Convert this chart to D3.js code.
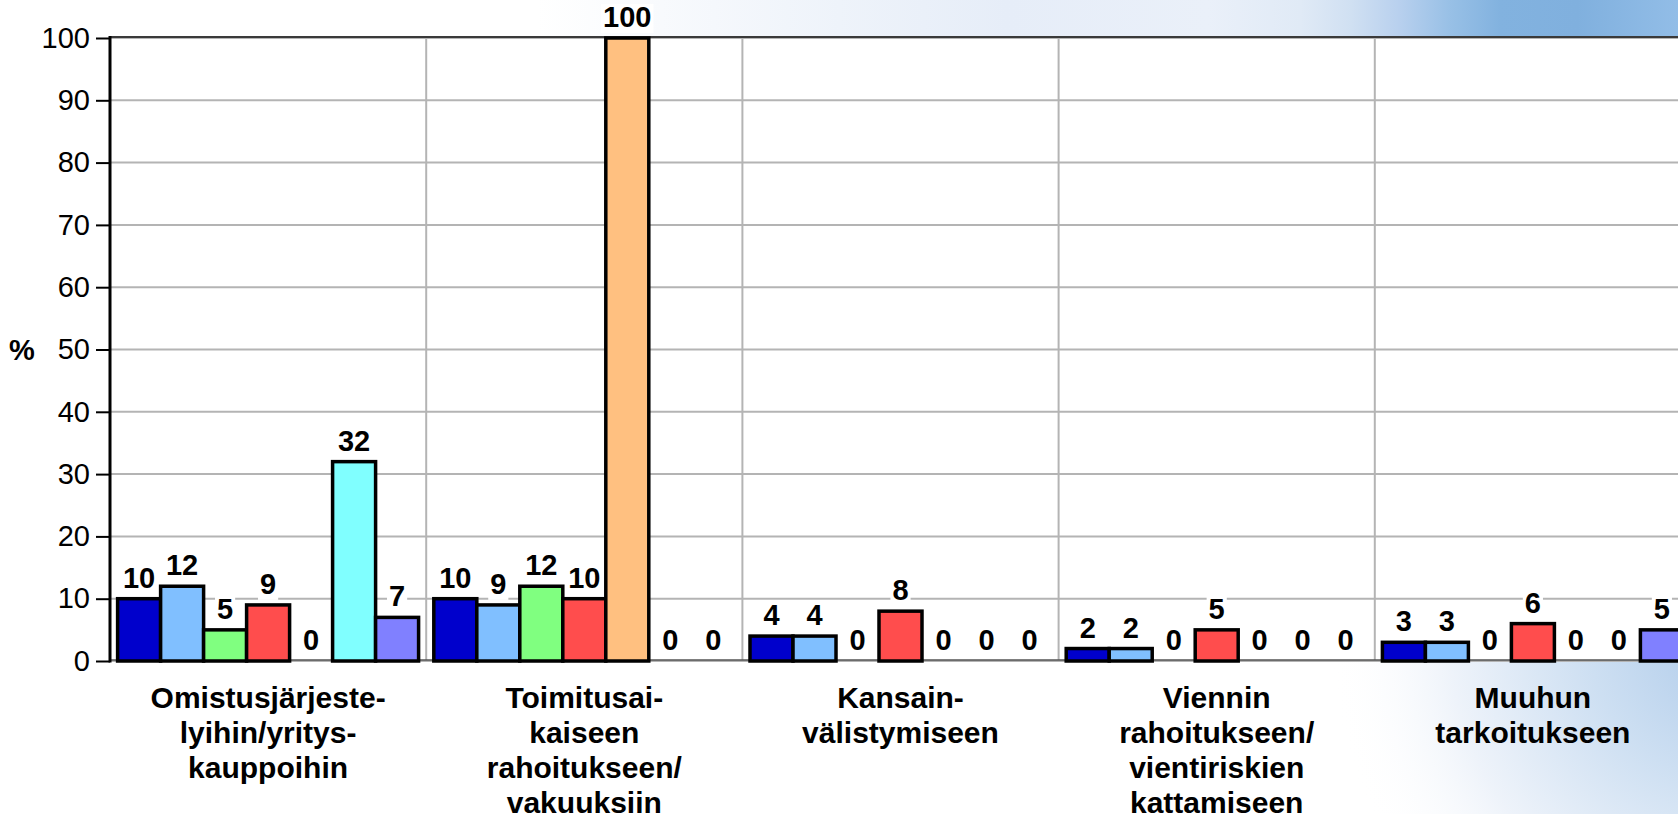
<!DOCTYPE html>
<html>
<head>
<meta charset="utf-8">
<script src="https://cdn.jsdelivr.net/npm/d3@7"></script>
<style>
  html, body { margin: 0; padding: 0; background: #fff; overflow: hidden; }
  svg { display: block; font-family: "Liberation Sans", Arial, sans-serif; }
</style>
</head>
<body>
<svg id="chart" width="1678" height="814"></svg>
<script>
// category labels, one entry per line as on the slide
var categoryLines = [
    ["Omistusjärjeste-", "lyihin/yritys-", "kauppoihin"],
    ["Toimitusai-", "kaiseen", "rahoitukseen/", "vakuuksiin"],
    ["Kansain-", "välistymiseen"],
    ["Viennin", "rahoitukseen/", "vientiriskien", "kattamiseen"],
    ["Muuhun", "tarkoitukseen"]
];
var categories = ["Omistusjärjestelyihin/yrityskauppoihin", "Toimitusaikaiseen rahoitukseen/vakuuksiin",
    "Kansainvälistymiseen", "Viennin rahoitukseen/vientiriskien kattamiseen", "Muuhun tarkoitukseen"];

// values per category, seven series each (%)
var omistus   = [10, 12, 5, 9, 0, 32, 7];
var toimitus  = [10, 9, 12, 10, 100, 0, 0];
var kansain   = [4, 4, 0, 8, 0, 0, 0];
var viennin   = [2, 2, 0, 5, 0, 0, 0];
var muuhun    = [3, 3, 0, 6, 0, 0, 5];
var values = [omistus, toimitus, kansain, viennin, muuhun];

var seriesColors = ["#0000cc", "#80bfff", "#80ff80", "#ff4d4d", "#ffc080", "#80ffff", "#8080ff"];
var yTicks = [0, 10, 20, 30, 40, 50, 60, 70, 80, 90, 100];

var svg = d3.select("#chart");
var W = 1678, H = 814;
var plotLeft = 110, plotTop = 38, plotBottom = 661;
var catStep = 316.2;

var defs = svg.append("defs");
var topGrad = defs.append("linearGradient").attr("id", "topGrad")
    .attr("x1", "0").attr("x2", "1").attr("y1", "0").attr("y2", "0");
[[0, "#ffffff"], [0.32, "#ffffff"], [0.5, "#eef3fa"], [0.6, "#e6edf8"], [0.72, "#eaf0f9"],
 [0.775, "#e0eaf6"], [0.805, "#d0e0f2"], [0.834, "#b8d0ee"], [0.864, "#98c0e6"],
 [0.894, "#82b2df"], [0.94, "#80b0de"], [1, "#92bde7"]].forEach(function(s) {
    topGrad.append("stop").attr("offset", s[0]).attr("stop-color", s[1]);
});
var cornerGrad = defs.append("radialGradient").attr("id", "cornerGrad")
    .attr("gradientUnits", "userSpaceOnUse")
    .attr("cx", 1730).attr("cy", 640).attr("r", 400);
[[0, "#afcbea", 1], [0.35, "#cddff2", 1], [0.7, "#eef3fa", 1], [1, "#ffffff", 0]].forEach(function(s) {
    cornerGrad.append("stop").attr("offset", s[0]).attr("stop-color", s[1]).attr("stop-opacity", s[2]);
});

// slide background
svg.append("rect").attr("width", W).attr("height", H).attr("fill", "#fff");
svg.append("rect").attr("width", W).attr("height", plotTop).attr("fill", "url(#topGrad)");
svg.append("rect").attr("x", 1100).attr("y", plotBottom).attr("width", W - 1100).attr("height", H - plotBottom)
    .attr("fill", "url(#cornerGrad)");

var x0 = d3.scaleBand()
    .domain(d3.range(categories.length))
    .range([plotLeft, plotLeft + catStep * categories.length])
    .padding(0);

var x1 = d3.scaleBand()
    .domain(d3.range(seriesColors.length))
    .range([0, x0.bandwidth()])
    .paddingInner(0)
    .paddingOuter(0.177);

var y = d3.scaleLinear().domain([0, 100]).range([plotBottom, plotTop]);

// plot area
svg.append("rect").attr("x", plotLeft).attr("y", plotTop).attr("width", W - plotLeft).attr("height", plotBottom - plotTop)
    .attr("fill", "#fff");

// grid
svg.append("g").selectAll("line.h")
    .data(yTicks)
  .enter().append("line")
    .attr("x1", plotLeft).attr("x2", W)
    .attr("y1", function(d) { return y(d) }).attr("y2", function(d) { return y(d) })
    .attr("stroke", "#b4b4b4").attr("stroke-width", 2);

svg.append("g").selectAll("line.v")
    .data(d3.range(1, categories.length + 1))
  .enter().append("line")
    .attr("x1", function(d) { return plotLeft + d * catStep }).attr("x2", function(d) { return plotLeft + d * catStep })
    .attr("y1", plotTop).attr("y2", plotBottom)
    .attr("stroke", "#b4b4b4").attr("stroke-width", 2);

// plot top border
svg.append("line").attr("x1", plotLeft).attr("x2", W).attr("y1", plotTop - 1).attr("y2", plotTop - 1)
    .attr("stroke", "#3a3a3a").attr("stroke-width", 2);

// x axis base line
svg.append("line").attr("x1", plotLeft).attr("x2", W).attr("y1", plotBottom - 1).attr("y2", plotBottom - 1)
    .attr("stroke", "#555").attr("stroke-width", 1.5);

// y axis
var yAxis = svg.append("g")
    .attr("transform", "translate(" + plotLeft + ",0)")
    .call(d3.axisLeft(y).tickValues(yTicks).tickSize(14).tickPadding(6).tickFormat(d3.format("d")));
yAxis.select(".domain").remove();
yAxis.selectAll(".tick line").attr("stroke", "#000").attr("stroke-width", 2);
yAxis.selectAll(".tick text")
    .attr("fill", "#000")
    .style("font-family", "'Liberation Sans', Arial, sans-serif")
    .style("font-size", "29px");
svg.append("line").attr("x1", plotLeft).attr("x2", plotLeft).attr("y1", plotTop - 2).attr("y2", plotBottom + 1.5)
    .attr("stroke", "#000").attr("stroke-width", 3);

svg.append("text")
    .attr("x", 22).attr("y", y(50))
    .attr("dy", "0.35em")
    .attr("text-anchor", "middle")
    .style("font-size", "29px").style("font-weight", "bold")
    .text("%");

// bars
var groups = svg.append("g").selectAll("g.cat")
    .data(values)
  .enter().append("g")
    .attr("class", "cat")
    .attr("transform", function(d, i) { return "translate(" + x0(i) + ",0)" });

groups.selectAll("rect.bar")
    .data(function(d) { return d })
  .enter().append("rect")
    .attr("class", "bar")
    .attr("x", function(d, i) { return x1(i) })
    .attr("width", x1.bandwidth())
    .attr("y", function(d) { return y(d) })
    .attr("height", function(d) { return y(0) - y(d) })
    .attr("fill", function(d, i) { return seriesColors[i] })
    .attr("stroke", "#000")
    .attr("stroke-width", 3.5);

// value labels with white boxes
var labels = groups.selectAll("g.lbl")
    .data(function(d) { return d })
  .enter().append("g")
    .attr("class", "lbl");

labels.append("text")
    .attr("x", function(d, i) { return x1(i) + x1.bandwidth() / 2 })
    .attr("y", function(d) { return y(d) - 11 })
    .attr("text-anchor", "middle")
    .style("font-size", "29px").style("font-weight", "bold")
    .text(function(d) { return d });

labels.each(function() {
    var g = d3.select(this);
    var b = g.select("text").node().getBBox();
    g.insert("rect", "text")
        .attr("x", b.x - 2).attr("y", b.y + 3)
        .attr("width", b.width + 4).attr("height", b.height - 3)
        .attr("fill", "#fff");
});

// category labels
var catText = svg.append("g").selectAll("text.cat")
    .data(categoryLines)
  .enter().append("text")
    .attr("class", "cat")
    .attr("text-anchor", "middle")
    .attr("x", function(d, i) { return x0(i) + x0.bandwidth() / 2 })
    .attr("y", 708)
    .style("font-size", "30px").style("font-weight", "bold");

catText.selectAll("tspan")
    .data(function(d) { return d })
  .enter().append("tspan")
    .attr("x", function() { return d3.select(this.parentNode).attr("x") })
    .attr("y", function(d, i) { return 708 + i * 35 })
    .text(function(d) { return d });
</script>
</body>
</html>
